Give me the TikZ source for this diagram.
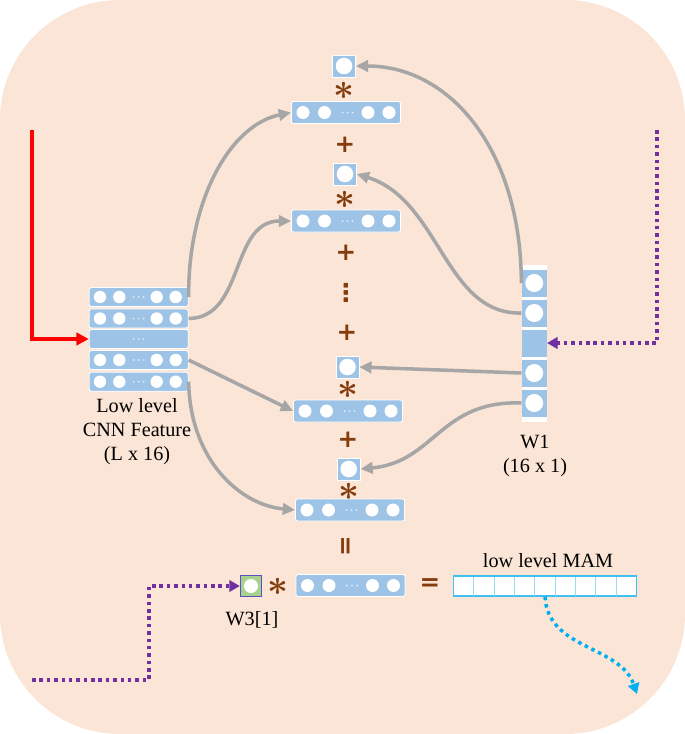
\documentclass[tikz,border=0pt]{standalone}
\usepackage{fontspec}
\setmainfont{Liberation Serif}
\newfontfamily\opfont{DejaVu Sans}
\usetikzlibrary{arrows.meta}

\definecolor{bgpeach}{HTML}{FBE5D6}
\definecolor{cellblue}{HTML}{9DC3E6}
\definecolor{opbrown}{HTML}{843C0C}
\definecolor{linkgray}{HTML}{A6A6A6}
\definecolor{purp}{HTML}{7030A0}
\definecolor{mamblue}{HTML}{3FBFF2}
\definecolor{dropblue}{HTML}{00B0F0}
\definecolor{w3green}{HTML}{A9D18E}
\definecolor{w3edge}{HTML}{5B4FC4}

% one row of the feature block
\newcommand{\featrow}[3]{%
  \node[rowbar] (#1) at (#2,#3) {};
  \foreach \dx in {-38.7,-19.4,18,37} \fill[white] (#1.center) ++(\dx,0) circle (0.124cm);
  \foreach \dx in {-5,0,5} \fill[white!70!cellblue] (#1.center) ++(\dx,0) circle (0.02cm);
}
% long vector in the middle column
\newcommand{\vecbar}[3]{%
  \node[longbar] (#1) at (#2,#3) {};
  \foreach \dx in {-43,-21.5,22,43} \fill[white] (#1.center) ++(\dx,0) circle (0.13cm);
  \foreach \dx in {-3.5,1.5,6.5} \fill[white!70!cellblue] (#1.center) ++(\dx,0) circle (0.02cm);
}
% single weight
\newcommand{\scalarsq}[3]{%
  \node[scalbox] (#1) at (#2,#3) {};
  \fill[white] (#1.center) circle (0.166cm);
}

\begin{document}
\begin{tikzpicture}[x=0.02cm, y=-0.02cm,
  rowbar/.style={rectangle, rounded corners=1.2pt, fill=cellblue, draw=white, line width=0.5pt, minimum width=1.98cm, minimum height=0.38cm, inner sep=0pt},
  longbar/.style={rowbar, minimum width=2.18cm, minimum height=0.44cm},
  scalbox/.style={rectangle, fill=cellblue, draw=white, line width=0.3pt, minimum width=0.46cm, minimum height=0.44cm, inner sep=0pt},
  w1cell/.style={rectangle, fill=cellblue, minimum width=0.5cm, minimum height=0.54cm, inner sep=0pt},
  opsym/.style={text=opbrown, inner sep=0pt, font=\boldmath\fontsize{22}{22}\selectfont},
  plussym/.style={text=opbrown, inner sep=0pt, font=\opfont\bfseries\fontsize{14}{14}\selectfont},
  lbl/.style={align=center, inner sep=0pt, font=\fontsize{11.5}{13.6}\selectfont},
  link/.style={draw=linkgray, line width=2pt, -{Triangle[length=7pt,width=6.5pt]}},
  redlink/.style={draw=red, line width=2pt, -{Triangle[length=7pt,width=7pt]}},
  dotflow/.style={draw=purp, line width=2pt, dash pattern=on 2pt off 2.2pt, -{Triangle[length=6pt,width=6.5pt]}},
  blueflow/.style={dotflow, draw=dropblue},
  mambox/.style={rectangle, draw=mamblue, fill=white, line width=0.9pt, minimum width=3.668cm, minimum height=0.4cm, inner sep=0pt}]

\useasboundingbox (0,0) rectangle (685,734);
\fill[bgpeach, rounded corners=2.4cm] (0,0) rectangle (685,734);

% feature block
\featrow{featA}{138.7}{297}
\featrow{featB}{138.7}{318.5}
\node[rowbar] (featC) at (138.7,339) {};
\foreach \dx in {-5,0,5} \fill[white!70!cellblue] (featC.center) ++(\dx,0) circle (0.02cm);
\featrow{featD}{138.7}{360}
\featrow{featE}{138.7}{381.7}
\node[lbl] (featlbl) at (137,432) {Low level\\CNN Feature\\(L x 16)};

% W1
\node[rectangle, fill=white, minimum width=0.5cm, minimum height=3.134cm, inner sep=0pt] (w1) at (534.2,343.3) {};
\node[w1cell] (w1a) at (534.2,283) {};
\node[w1cell] (w1b) at (534.2,313) {};
\node[w1cell] (w1c) at (534.2,343) {};
\node[w1cell] (w1d) at (534.2,373) {};
\node[w1cell] (w1e) at (534.2,403) {};
\foreach \c in {w1a,w1b,w1d,w1e} \fill[white] (\c.center) circle (0.18cm);
\node[lbl] (w1lbl) at (535,456) {W1\\(16 x 1)};

% middle column
\scalarsq{sq1}{344}{66}
\node[opsym] (ast1) at (344,91) {$\ast$};
\vecbar{bar1}{346}{112.5}
\node[plussym] (plus1) at (345,145) {+};
\scalarsq{sq2}{345}{174}
\node[opsym] (ast2) at (345,200) {$\ast$};
\vecbar{bar2}{346}{221}
\node[plussym] (plus2) at (346,253) {+};
\node[plussym] (vdots1) at (346,293) {⋮};
\node[plussym] (plus3) at (347,333) {+};
\scalarsq{sq3}{347.5}{367}
\node[opsym] (ast3) at (347.5,390) {$\ast$};
\vecbar{bar3}{348}{411}
\node[plussym] (plus4) at (348,440) {+};
\scalarsq{sq4}{348.7}{469}
\node[opsym] (ast4) at (348.7,492) {$\ast$};
\vecbar{bar4}{350}{510}
\node[plussym, rotate=90] (eqv) at (348,546) {=};

% bottom row
\node[rectangle, fill=w3green, draw=w3edge, line width=0.8pt, minimum size=0.42cm, inner sep=0pt] (w3) at (251,586) {};
\fill[white] (w3.center) circle (0.14cm);
\node[lbl] (w3lbl) at (252,620) {W3[1]};
\node[opsym] (ast5) at (278.3,587) {$\ast$};
\vecbar{bar5}{350.5}{585.5}
\node[plussym] (eqh) at (430,585) {=};
\node[mambox] (mam) at (545,586) {};
\foreach \i in {1,...,8} \draw[mamblue!55, line width=0.6pt] ({453.3+20.38*\i},576.5) -- ({453.3+20.38*\i},595.5);
\node[lbl] (mamlbl) at (548,561) {low level MAM};

% feature rows to vectors
\draw[link] (featA.east) .. controls (188,200) and (230,125) .. (bar1.west);
\draw[link] (featB.east) .. controls (245,318) and (230,221) .. (bar2.west);
\draw[link] (featD.east) -- (bar3.west);
\draw[link] (featE.east) .. controls (190,460) and (240,505) .. (bar4.west);

% W1 entries to weights
\draw[link] (w1a.west) .. controls (521,150) and (450,66) .. (sq1.east);
\draw[link] (w1b.west) .. controls (445,315) and (440,200) .. (sq2.east);
\draw[link] (w1d.west) -- (sq3.east);
\draw[link] (w1e.west) .. controls (440,400) and (435,462) .. (sq4.east);

% inputs and output
\coordinate (redin) at (32,130);
\draw[redlink] (redin) |- (featC.west);
\coordinate (w1in) at (657,130);
\draw[dotflow] (w1in) |- (w1c.east);
\coordinate (w3in) at (32,680);
\coordinate (w3bend) at (149,680);
\draw[dotflow] (w3in) -- (w3bend) |- (w3.west);
\coordinate (mamout) at (637,694);
\draw[blueflow] (mam.south) .. controls (548,650) and (620,645) .. (mamout);
\end{tikzpicture}
\end{document}
